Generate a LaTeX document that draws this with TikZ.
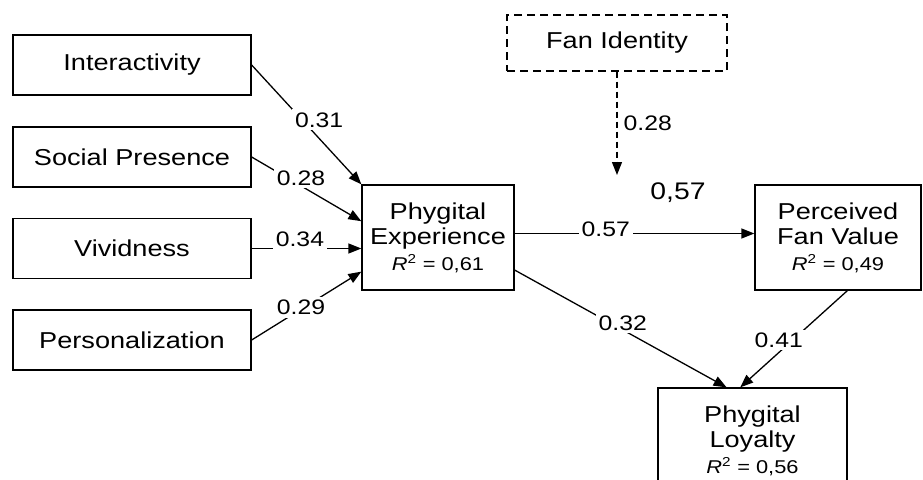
\documentclass[tikz,border=0pt]{standalone}
\usepackage{fontspec}
\setmainfont{Liberation Sans}[FakeStretch=1.18]
\usetikzlibrary{arrows.meta}
\newcommand{\rsquared}[1]{{\fontsize{18.5}{18.5}\selectfont\textit{R}\textsuperscript{2} = #1}}

\begin{document}
\begin{tikzpicture}[x=1pt,y=-1pt,
	box/.style={draw,line width=1.3pt,align=center,inner sep=0pt,font=\fontsize{23}{25}\selectfont},
	coef/.style={fill=white,inner sep=3pt,font=\fontsize{21}{21}\selectfont},
	link/.style={line width=1.3pt,-{Triangle[length=13pt,width=10pt]}}]
			\clip (0,0) rectangle (923,479);
			% constructs
			\node[box,minimum width=238pt,minimum height=60pt] (inter) at (132,65) {Interactivity};
			\node[box,minimum width=238pt,minimum height=60pt] (soc) at (132,157) {Social Presence};
			\node[box,minimum width=238pt,minimum height=60pt] (viv) at (132,248.5) {Vividness};
			\node[box,minimum width=238pt,minimum height=60pt] (pers) at (132,340) {Personalization};
			\node[box,minimum width=152pt,minimum height=105pt] (pe) at (438,237.5) {Phygital\\Experience\\[1pt]\rsquared{0,61}};
			\node[box,minimum width=166pt,minimum height=105pt] (pfv) at (838,237.5) {Perceived\\Fan Value\\[1pt]\rsquared{0,49}};
			\node[box,minimum width=189pt,minimum height=105pt] (pl) at (752.5,440.5) {Phygital\\Loyalty\\[1pt]\rsquared{0,56}};
			\node[box,dash pattern=on 8pt off 5pt,minimum width=220pt,minimum height=56pt] (fan) at (617,43) {Fan Identity};
			\node[font=\fontsize{24}{24}\selectfont] (total) at (678,193) {0,57};
			\coordinate (fanend) at (617,175);
			% paths
			\draw[link] (inter.east) -- node[coef,pos=0.46,xshift=17pt] (b1) {0.31} (pe.north west);
			\draw[link] (soc.east) -- node[coef,pos=0.45,yshift=8pt] (b2) {0.28} (pe.168);
			\draw[link] (viv.east) -- node[coef,pos=0.44,yshift=9pt] (b3) {0.34} (viv.east -| pe.west);
			\draw[link] (pers.east) -- node[coef,pos=0.45,yshift=1.5pt] (b4) {0.29} (pe.204);
			\draw[link] (pe.3) -- node[coef,pos=0.38,yshift=4pt] (b5) {0.57} (pe.3 -| pfv.west);
			\draw[link] (pe.-23) -- node[coef,pos=0.51,yshift=7pt] (b6) {0.32} (pl.116);
			\draw[link] (pfv.-80) -- node[coef,pos=0.51,xshift=-14pt] (b7) {0.41} (pl.103);
			\draw[link,dash pattern=on 6pt off 4pt] (fan.south) -- node[anchor=west,inner sep=0pt,xshift=6pt,font=\fontsize{21}{21}\selectfont] (b8) {0.28} (fanend);
		\end{tikzpicture}
\end{document}
